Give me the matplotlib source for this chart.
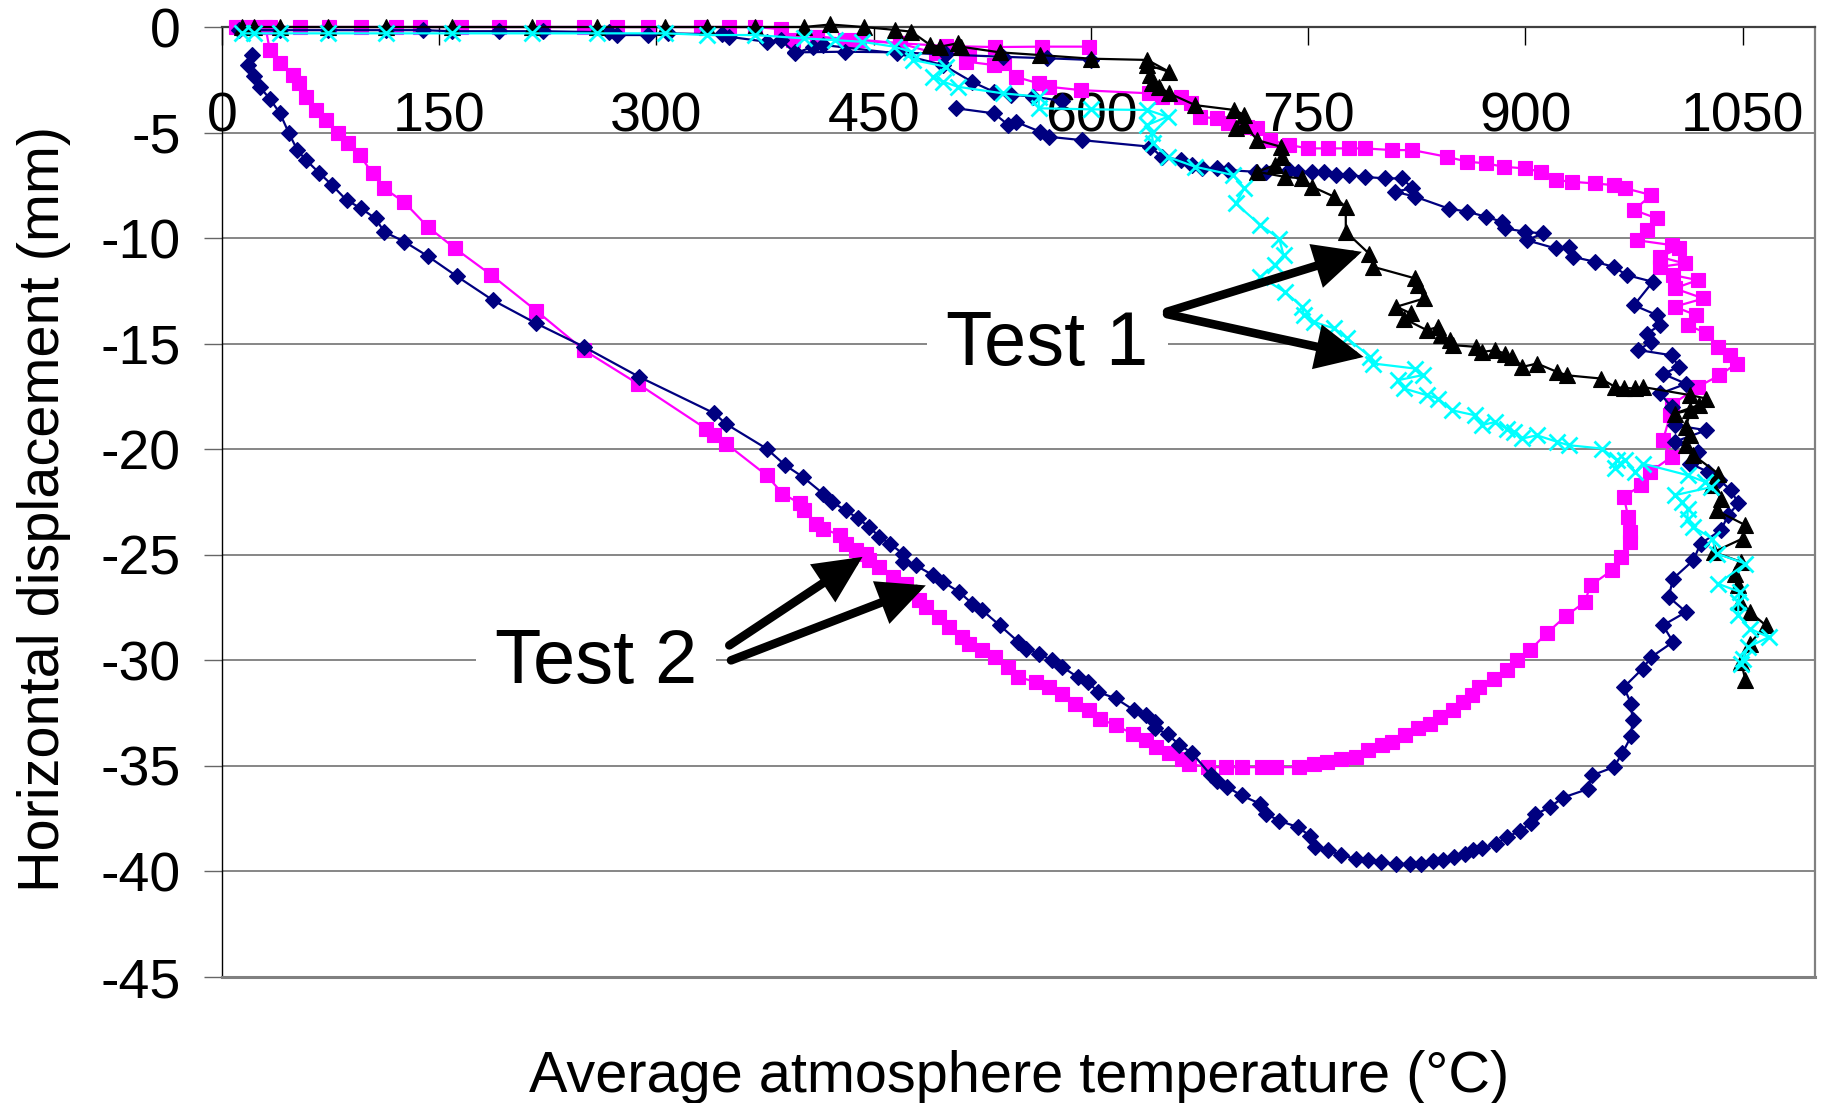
import matplotlib
matplotlib.use('Agg')
import matplotlib.pyplot as plt

plt.rcParams['font.family'] = ['Liberation Sans', 'DejaVu Sans']

# ---------------- data (temperature °C, displacement mm) ----------------
x_ticks = [0, 150, 300, 450, 600, 750, 900, 1050]
x_tick_labels = ['0', '150', '300', '450', '600', '750', '900', '1050']
y_ticks = [0, -5, -10, -15, -20, -25, -30, -35, -40, -45]
y_tick_labels = ['0', '-5', '-10', '-15', '-20', '-25', '-30', '-35', '-40', '-45']

# magenta (squares): main path
mag_x = [30, 33, 40, 49, 53, 58, 65, 72, 80, 87, 95, 104, 112, 126, 142, 161, 186, 217, 250, 287,
         334, 340, 348, 376, 387, 399, 402, 410, 415, 427, 431, 438, 445, 447, 454, 463, 472, 481,
         486, 495, 502, 511, 516, 525, 534, 543, 550, 562, 571, 580, 589, 599, 606, 617, 629, 638,
         645, 654, 663, 668, 681, 693, 704, 718, 728, 744, 754, 763, 773, 783, 791, 801, 808, 817,
         826, 834, 841, 850, 857, 863, 868, 878, 887, 894, 903, 915, 928, 941, 945, 960, 966, 972,
         972, 971, 968, 980, 986, 1001, 995, 1000, 1001, 1019, 1034, 1046, 1041, 1033, 1025, 1012,
         1018, 1003, 1023, 1003, 1019, 1002, 993, 1010, 993, 1006, 1001, 977, 984, 991, 975, 987,
         969, 961, 948, 932, 921, 911, 900, 885, 873, 860, 846, 822, 808, 789, 778, 764, 750, 737,
         724, 715, 708, 695, 687, 675, 669, 662, 649, 640, 593, 571, 564, 548, 540, 533, 514, 516,
         493, 468, 430, 411, 394, 386, 368, 350, 331, 294, 273, 250, 222, 191, 165, 137, 120, 96,
         74, 54, 33, 20, 10]
mag_y = [0.0, -1.09, -1.72, -2.27, -2.67, -3.3, -3.93, -4.41, -5.04, -5.51, -6.07, -6.93, -7.64,
         -8.31, -9.46, -10.49, -11.75, -13.44, -15.31, -16.89, -19.02, -19.34, -19.73, -21.23,
         -22.1, -22.57, -22.89, -23.52, -23.76, -24.08, -24.47, -24.79, -24.94, -25.26, -25.58,
         -26.05, -26.37, -27.16, -27.47, -27.95, -28.42, -28.9, -29.21, -29.53, -29.84, -30.32,
         -30.79, -31.03, -31.26, -31.58, -32.05, -32.37, -32.76, -33.08, -33.48, -33.76, -34.1,
         -34.4, -34.66, -34.9, -35.06, -35.06, -35.06, -35.06, -35.06, -35.06, -34.9, -34.8,
         -34.66, -34.58, -34.27, -34.0, -33.87, -33.55, -33.2, -33.0, -32.7, -32.37, -31.97,
         -31.66, -31.26, -30.87, -30.47, -30.0, -29.53, -28.7, -27.9, -27.24, -26.45, -25.73,
         -25.1, -24.4, -23.92, -23.2, -22.26, -21.7, -21.08, -20.36, -19.57, -18.4, -17.9, -17.05,
         -16.5, -15.94, -15.55, -15.15, -14.5, -14.12, -13.65, -13.25, -12.86, -12.38, -11.99,
         -11.75, -11.36, -11.2, -10.89, -10.49, -10.33, -10.1, -9.62, -9.07, -8.67, -7.96, -7.64,
         -7.49, -7.41, -7.33, -7.25, -6.86, -6.7, -6.62, -6.46, -6.38, -6.15, -5.83, -5.83, -5.75,
         -5.75, -5.75, -5.75, -5.59, -5.36, -4.8, -4.72, -4.57, -4.33, -4.25, -3.62, -3.3, -3.3,
         -3.14, -2.99, -2.83, -2.67, -2.36, -1.72, -1.8, -1.64, -1.33, -1.25, -0.77, -0.6, -0.46,
         -0.62, -0.1, 0.0, 0.0, 0.0, 0.0, 0.0, 0.0, 0.0, 0.0, 0.0, 0.0, 0.0, 0.0, 0.0, 0.0, 0.0,
         0.0, 0.0]
# magenta short segment near -1 mm
mag2_x = [411, 440, 468, 500, 534, 566, 599]
mag2_y = [-0.46, -0.6, -0.77, -0.9, -0.95, -0.93, -0.93]

# navy (diamonds): main path
navy_x = [21, 18, 22, 26, 33, 40, 46, 52, 58, 67, 76, 86, 96, 106, 112, 126, 142, 162, 187, 217,
          250, 288, 340, 348, 376, 389, 401, 415, 421, 431, 439, 447, 454, 461, 470, 470, 479,
          491, 498, 509, 518, 525, 537, 550, 555, 564, 573, 580, 591, 598, 605, 617, 630, 638,
          644, 644, 653, 661, 670, 683, 687, 694, 704, 717, 721, 730, 743, 751, 755, 764, 773,
          783, 791, 800, 811, 820, 828, 836, 843, 851, 858, 864, 870, 880, 887, 896, 904, 907,
          917, 926, 943, 946, 961, 967, 973, 974, 973, 968, 981, 987, 1002, 995, 1011, 999, 1002,
          1016, 1021, 1035, 1040, 1047, 1042, 1034, 1026, 1014, 1019, 1003, 1025, 1003, 1001, 993,
          1011, 995, 1006, 1001, 978, 987, 984, 993, 991, 975, 988, 970, 961, 948, 933, 930, 921,
          901, 912, 900, 886, 884, 873, 860, 847, 824, 810, 822, 815, 803, 789, 778, 769, 761,
          753, 743, 737, 721, 714, 695, 687, 677, 670, 662, 649, 641, 594, 571, 565, 548, 543,
          533, 507]
navy_y = [-1.33, -1.8, -2.3, -2.83, -3.4, -4.08, -5.0, -5.83, -6.3, -6.9, -7.49, -8.2, -8.59,
          -9.07, -9.7, -10.17, -10.85, -11.8, -12.94, -14.04, -15.15, -16.57, -18.3, -18.8,
          -19.97, -20.76, -21.31, -22.1, -22.5, -22.9, -23.28, -23.68, -24.16, -24.47, -24.94,
          -25.34, -25.5, -25.97, -26.29, -26.76, -27.31, -27.63, -28.34, -29.13, -29.45, -29.68,
          -30.0, -30.3, -30.8, -31.03, -31.5, -31.8, -32.37, -32.6, -32.9, -33.2, -33.5, -34.0,
          -34.4, -35.45, -35.7, -36.0, -36.4, -36.8, -37.27, -37.6, -37.9, -38.3, -38.85, -39.0,
          -39.24, -39.4, -39.48, -39.56, -39.64, -39.64, -39.64, -39.5, -39.45, -39.3, -39.16,
          -39.0, -38.9, -38.7, -38.37, -38.1, -37.7, -37.3, -36.95, -36.5, -36.1, -35.45, -35.06,
          -34.4, -33.6, -32.84, -32.05, -31.27, -30.39, -29.84, -29.13, -28.34, -27.71, -27.0,
          -26.13, -25.26, -24.47, -23.84, -23.13, -22.57, -21.94, -21.47, -21.07, -20.68, -20.13,
          -19.65, -19.1, -18.86, -18.0, -17.36, -16.9, -16.43, -16.1, -15.55, -15.3, -14.91,
          -14.52, -14.12, -13.65, -13.18, -12.07, -11.75, -11.36, -11.12, -10.89, -10.41, -10.49,
          -10.1, -9.78, -9.7, -9.54, -9.23, -8.99, -8.75, -8.6, -8.04, -7.8, -7.64, -7.17, -7.17,
          -7.1, -7.0, -7.0, -6.86, -6.86, -6.86, -6.78, -6.86, -6.86, -6.78, -6.7, -6.7, -6.54,
          -6.3, -6.15, -5.67, -5.36, -5.2, -4.96, -4.49, -4.64, -4.09, -3.85]
# navy top heating path
navy2_x = [12, 40, 73, 113, 139, 159, 191, 222, 267, 273, 294, 308, 345, 350, 376, 386, 396, 408,
           415, 466, 498, 518, 533, 545, 560, 580]
navy2_y = [-0.15, -0.15, -0.15, -0.15, -0.15, -0.2, -0.2, -0.2, -0.25, -0.38, -0.38, -0.3, -0.35,
           -0.46, -0.7, -0.62, -1.25, -0.93, -0.85, -1.25, -1.8, -2.6, -3.07, -3.2, -3.3, -3.5]
# navy segment near -1.3 mm
navy3_x = [396, 430, 466, 500, 539, 570, 600]
navy3_y = [-1.2, -1.17, -1.2, -1.3, -1.41, -1.48, -1.56]

# black (triangles)
blk_x = [14, 22, 40, 73, 113, 159, 214, 259, 306, 335, 368, 402, 420, 443, 465, 476, 489, 496, 508,
         510, 537, 565, 600, 639, 654, 639, 641, 642, 647, 654, 672, 699, 706, 700, 706, 715, 731,
         732, 727, 715, 734, 746, 753, 768, 776, 776, 792, 795, 824, 826, 830, 811, 821, 816, 832,
         840, 842, 848, 850, 866, 870, 879, 886, 891, 898, 908, 922, 929, 952, 962, 968, 976, 981,
         1014, 1025, 1020, 1003, 1014, 1011, 1014, 1011, 1016, 1033, 1029, 1035, 1032, 1052,
         1050, 1030, 1049, 1045, 1047, 1048, 1055, 1066, 1055, 1049, 1052]
blk_y = [0.0, 0.0, 0.0, 0.0, 0.0, 0.0, 0.0, 0.0, 0.0, 0.0, 0.0, 0.0, 0.12, 0.0, -0.14, -0.22, -0.85,
         -0.93, -0.77, -0.93, -1.2, -1.33, -1.5, -1.56, -2.12, -1.8, -2.27, -2.67, -2.83, -3.14,
         -3.7, -3.93, -4.17, -4.8, -4.64, -5.36, -5.67, -6.15, -6.54, -6.86, -7.1, -7.17, -7.57,
         -8.04, -8.52, -9.7, -10.73, -11.36, -11.91, -12.23, -12.86, -13.25, -13.57, -13.81,
         -14.36, -14.2, -14.6, -14.83, -15.07, -15.15, -15.39, -15.31, -15.47, -15.62, -16.1,
         -15.94, -16.34, -16.5, -16.65, -17.05, -17.1, -17.12, -17.05, -17.44, -17.6, -17.9,
         -18.31, -18.15, -18.94, -19.34, -19.81, -20.28, -21.15, -21.7, -22.34, -22.9, -23.6,
         -24.23, -24.87, -25.34, -25.89, -26.45, -27.24, -27.71, -28.34, -29.21, -30.08, -30.95]

# cyan (crosses)
cyn_x = [14, 22, 40, 73, 113, 159, 214, 259, 306, 335, 368, 402, 423, 442, 464, 476, 477, 500, 491,
         498, 508, 539, 564, 564, 600, 639, 653, 639, 642, 643, 653, 672, 698, 706, 700, 717, 730,
         733, 727, 717, 734, 746, 747, 754, 768, 777, 793, 795, 824, 829, 812, 816, 832, 840, 849,
         865, 870, 879, 887, 892, 898, 908, 922, 930, 953, 963, 962, 969, 976, 981, 1012, 1024,
         1028, 1003, 1008, 1012, 1012, 1016, 1029, 1032, 1052, 1033, 1048, 1047, 1047, 1055, 1068,
         1054, 1050, 1049]
cyn_y = [-0.3, -0.3, -0.3, -0.3, -0.3, -0.3, -0.3, -0.3, -0.3, -0.38, -0.38, -0.54, -0.62, -0.7,
         -0.93, -1.17, -1.56, -1.88, -2.36, -2.59, -2.83, -3.14, -3.3, -3.85, -3.9, -3.93, -4.25,
         -4.64, -5.04, -5.51, -6.15, -6.62, -7.01, -7.64, -8.36, -9.38, -10.02, -10.8, -11.28,
         -11.83, -12.55, -13.25, -13.65, -13.97, -14.28, -14.75, -15.62, -15.94, -16.18, -16.49,
         -16.73, -17.12, -17.44, -17.6, -18.15, -18.39, -18.86, -18.71, -19.02, -19.18, -19.49,
         -19.34, -19.65, -19.81, -19.97, -20.52, -20.91, -20.52, -21.07, -20.68, -21.23, -21.55,
         -21.8, -22.18, -22.5, -22.81, -23.29, -23.68, -24.23, -24.94, -25.42, -26.37, -26.76,
         -27.24, -27.87, -28.5, -28.9, -29.37, -29.92, -30.16]

# ---------------- figure ----------------
fig = plt.figure(figsize=(18.27, 11.03), dpi=100)
ax = fig.add_axes([0.12151, 0.11423, 0.87192, 0.86128])

NAVY = '#000080'
MAG = '#FF00FF'
CYAN = '#00FFFF'


def series(x, y, color, marker, ms, mew=0.8, lw=1.6, z=3):
    ax.plot(x, y, color=color, lw=lw, marker=marker, ms=ms, mfc=color, mec=color,
            mew=mew, clip_on=False, zorder=z)


series(mag_x, mag_y, MAG, 's', 10.5, z=3)
series(mag2_x, mag2_y, MAG, 's', 10.5, z=3)
series(navy_x, navy_y, NAVY, 'D', 8.0, z=3.1)
series(navy2_x, navy2_y, NAVY, 'D', 8.0, z=3.1)
series(navy3_x, navy3_y, NAVY, 'D', 8.0, z=3.1)
series(blk_x, blk_y, 'black', '^', 11.0, z=3.2)
series(cyn_x, cyn_y, CYAN, 'x', 12.0, mew=2.0, z=3.3)

ax.set_xlim(0, 1100)
ax.set_ylim(-45, 0)

ax.set_xticks(x_ticks)
ax.set_xticklabels(x_tick_labels)
ax.set_yticks(y_ticks)
ax.set_yticklabels(y_tick_labels)

ax.xaxis.tick_top()
ax.tick_params(axis='x', direction='in', length=13, width=1.0, color='black',
               labelsize=40, pad=-84, top=True, bottom=False, labeltop=True,
               labelbottom=False)
ax.tick_params(axis='y', direction='out', length=13, width=1.0, color='#666666',
               labelsize=40, pad=16.6)

ax.yaxis.grid(True, color='#666666', lw=1.1)
ax.xaxis.grid(False)
ax.set_axisbelow(True)

ax.spines['top'].set_color('#404040')
ax.spines['top'].set_linewidth(1.6)
ax.spines['left'].set_color('black')
ax.spines['left'].set_linewidth(1.0)
ax.spines['right'].set_color('#808080')
ax.spines['right'].set_linewidth(1.6)
ax.spines['bottom'].set_color('#808080')
ax.spines['bottom'].set_linewidth(2.2)

ax.set_ylabel('Horizontal displacement (mm)', fontsize=41.5)
ax.yaxis.set_label_coords(-0.095, 0.4926)
ax.xaxis.set_label_position('bottom')
ax.set_xlabel('Average atmosphere temperature (°C)', fontsize=41.5)
ax.xaxis.set_label_coords(0.5007, -0.077)

# annotations
txt_box = dict(facecolor='white', edgecolor='none', boxstyle='square,pad=0.25')
ax.text(570, -15.09, 'Test 1', fontsize=54.5, ha='center', va='center', bbox=txt_box, zorder=5)
ax.text(258.3, -30.17, 'Test 2', fontsize=54.5, ha='center', va='center', bbox=txt_box, zorder=5)

arrow = dict(arrowstyle='-|>,head_length=1.15,head_width=0.55', lw=6.2, color='black',
             mutation_scale=21, shrinkA=0, shrinkB=0, joinstyle='miter')
ax.annotate('', xy=(787.1, -10.65), xytext=(652.6, -13.49), arrowprops=arrow, zorder=6)
ax.annotate('', xy=(788.3, -15.63), xytext=(652.6, -13.6), arrowprops=arrow, zorder=6)
ax.annotate('', xy=(442.3, -25.1), xytext=(350.3, -29.29), arrowprops=arrow, zorder=6)
ax.annotate('', xy=(486.0, -26.45), xytext=(351.5, -30.0), arrowprops=arrow, zorder=6)

fig.savefig('out.png', dpi=100)
